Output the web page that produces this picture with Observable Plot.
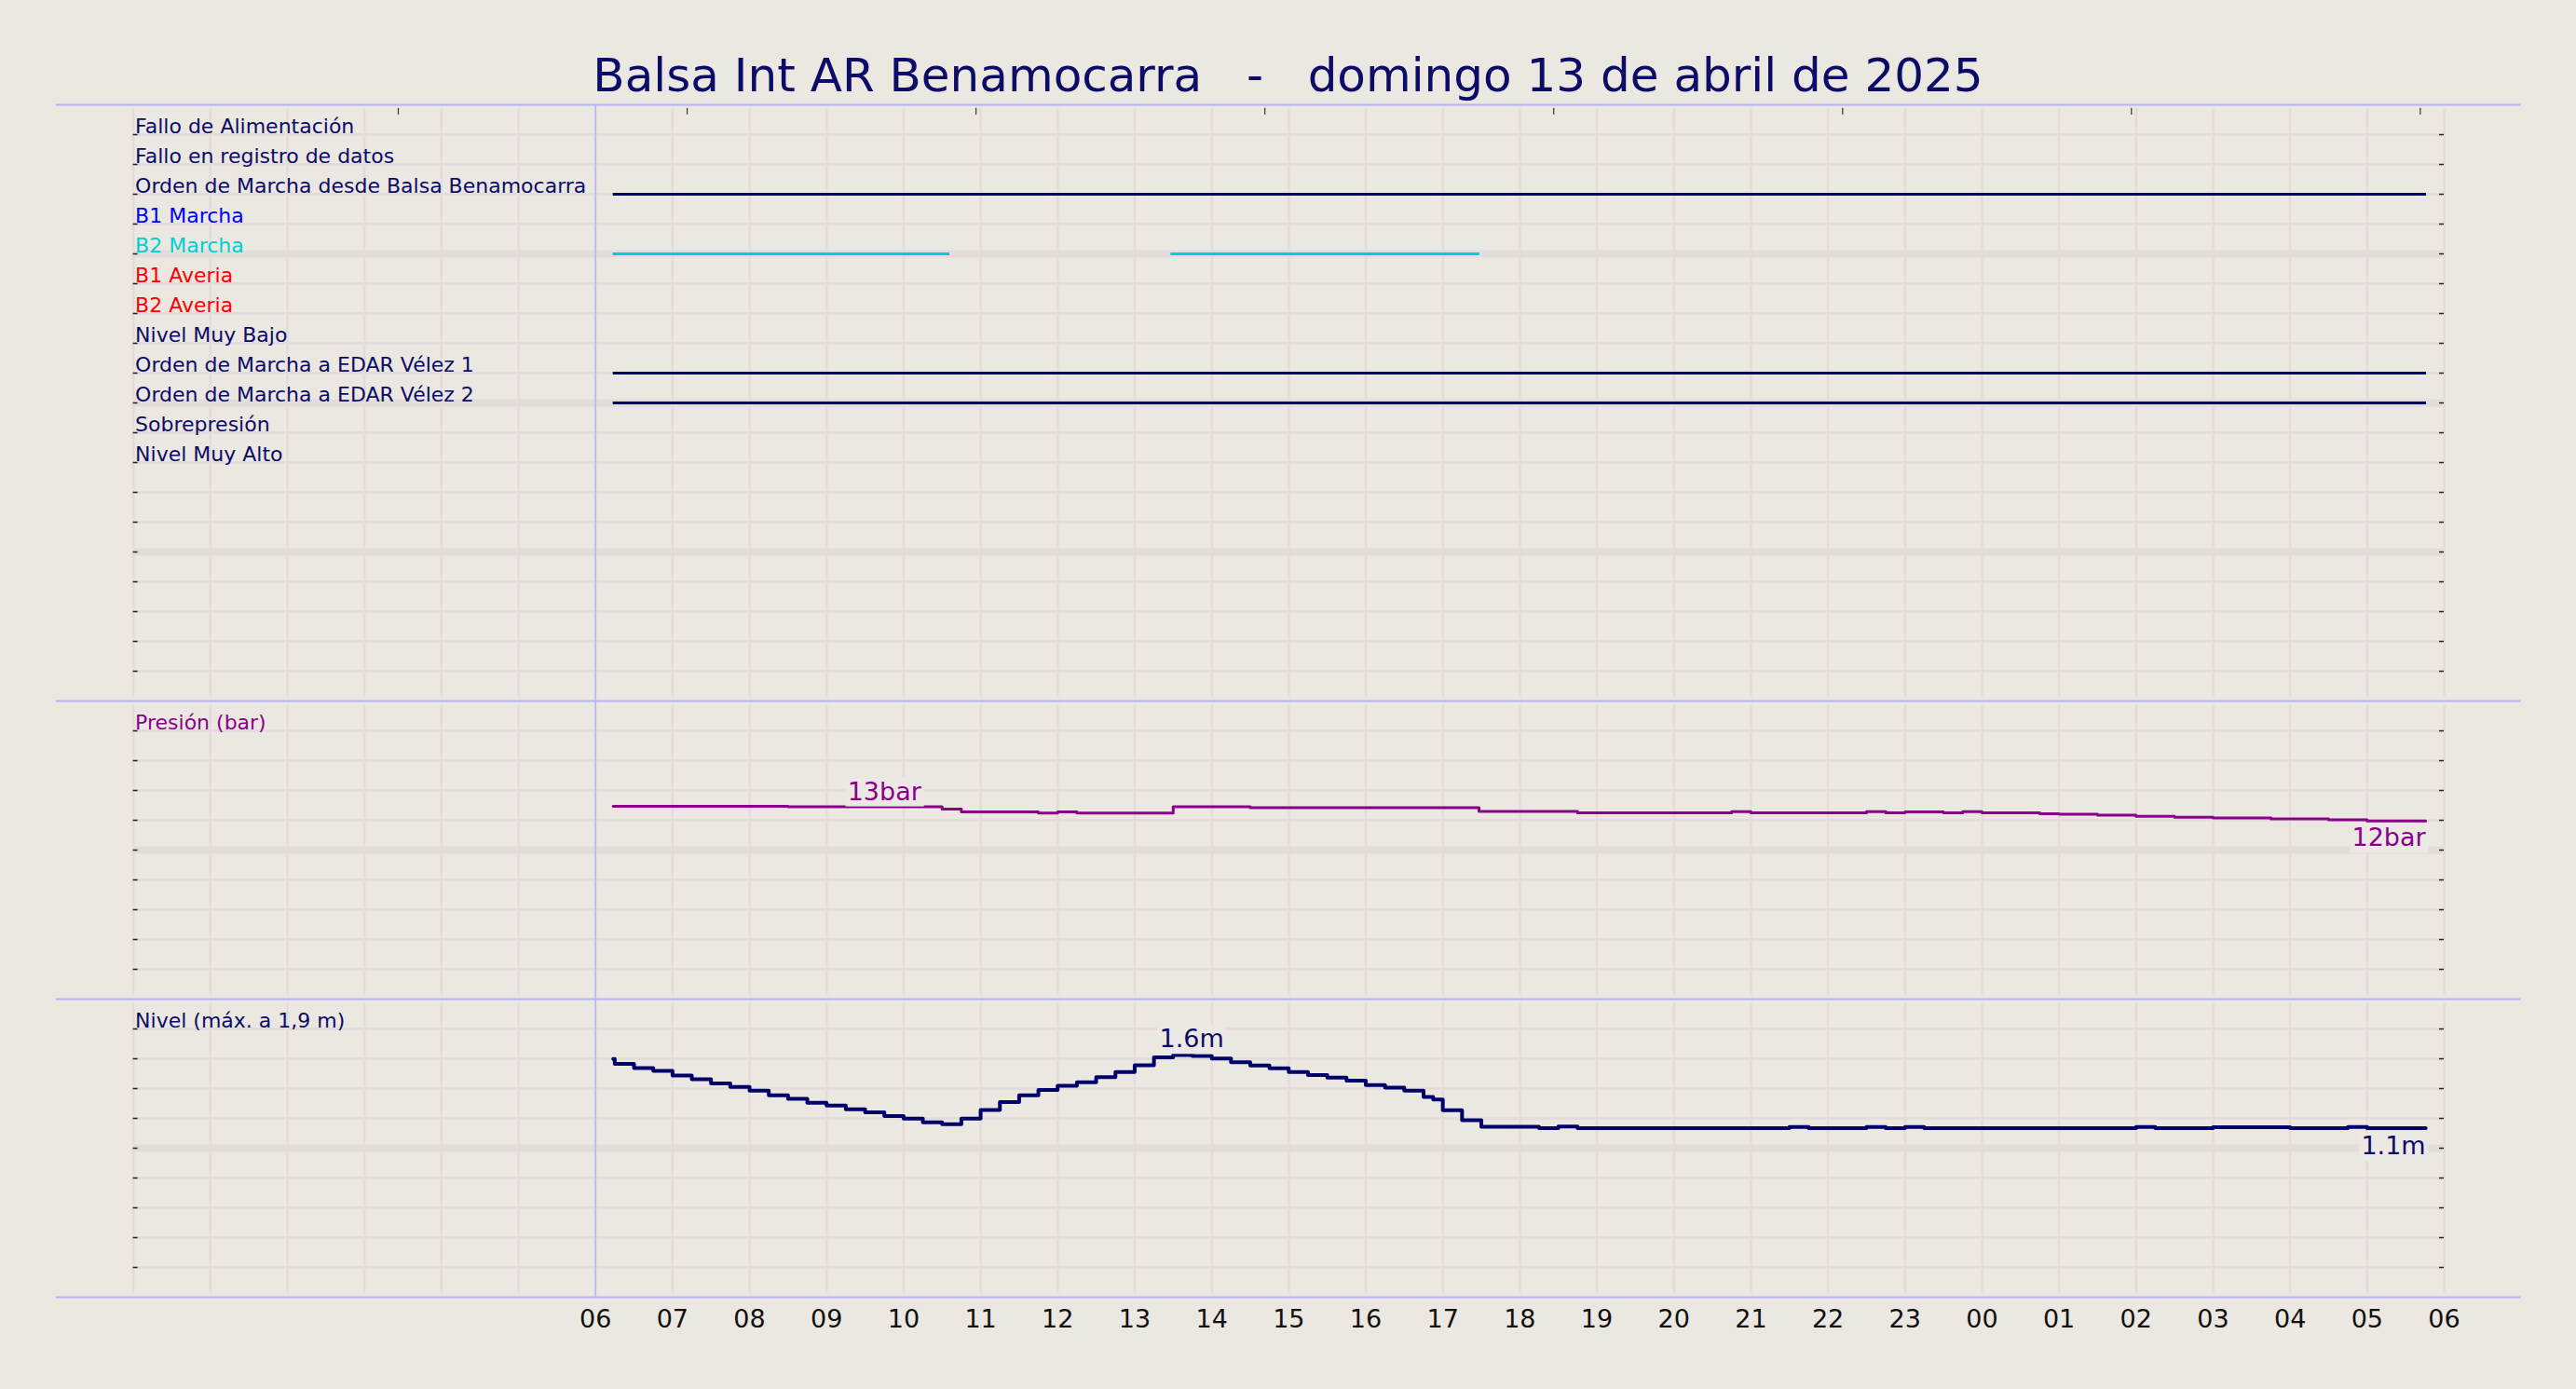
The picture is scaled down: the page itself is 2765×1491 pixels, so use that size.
<!DOCTYPE html>
<html>
<head>
<meta charset="utf-8">
<script src="https://cdn.jsdelivr.net/npm/d3@7"></script>
<script src="https://cdn.jsdelivr.net/npm/@observablehq/plot@0.6"></script>
<style>
  html, body { margin: 0; padding: 0; background: #ebe7e1; overflow: hidden; }
  #wrap { width: 2765px; }
  #title { height: 112px; box-sizing: border-box; padding-top: 56px; font: 50px/50px "DejaVu Sans"; color: #0c0c68; text-align: center; white-space: pre; }
  svg { display: block; overflow: visible; }
</style>
</head>
<body>
<div id="wrap"><div id="title"></div></div>
<script>
// ---------- data ----------
const titleText = "Balsa Int AR Benamocarra   -   domingo 13 de abril de 2025";

const hourTicks = [6,7,8,9,10,11,12,13,14,15,16,17,18,19,20,21,22,23,24,25,26,27,28,29,30];
const hourLabels = ["06","07","08","09","10","11","12","13","14","15","16","17","18","19","20","21","22","23","00","01","02","03","04","05","06"];
const gridHours = [0,1,2,3,4,5,6,7,8,9,10,11,12,13,14,15,16,17,18,19,20,21,22,23,24,25,26,27,28,29,30];
const topTickHours = [3.44, 7.19, 10.94, 14.69, 18.44, 22.19, 25.94, 29.69];

const signalNames = [
  "Fallo de Alimentación",
  "Fallo en registro de datos",
  "Orden de Marcha desde Balsa Benamocarra",
  "B1 Marcha",
  "B2 Marcha",
  "B1 Averia",
  "B2 Averia",
  "Nivel Muy Bajo",
  "Orden de Marcha a EDAR Vélez 1",
  "Orden de Marcha a EDAR Vélez 2",
  "Sobrepresión",
  "Nivel Muy Alto"
];
// active periods of digital signals (hours since 00:00 of 13/04)
const onSignal = ["Orden de Marcha desde Balsa Benamocarra", "B2 Marcha", "B2 Marcha", "Orden de Marcha a EDAR Vélez 1", "Orden de Marcha a EDAR Vélez 2"];
const onStart  = [6.23, 6.23, 13.47, 6.23, 6.23];
const onEnd    = [29.77, 10.60, 17.48, 29.77, 29.77];

// pressure (bar), step changes
const presT = [6.23, 8.50, 10.50, 10.75, 11.75, 12.00, 12.25, 13.50, 14.50, 17.47, 18.75, 20.75, 21.00, 22.50, 22.75, 23.00, 23.50, 23.75, 24.00, 24.75, 25.00, 25.50, 26.00, 26.50, 27.00, 27.75, 28.50, 29.00, 29.76];
const presV = [12.94, 12.90, 12.75, 12.57, 12.49, 12.57, 12.49, 12.90, 12.84, 12.59, 12.50, 12.58, 12.50, 12.58, 12.50, 12.56, 12.50, 12.58, 12.50, 12.43, 12.40, 12.34, 12.27, 12.20, 12.16, 12.10, 12.03, 11.96, 11.96];

// level (m), step changes
const levT = [6.23, 6.25, 6.50, 6.75, 7.00, 7.25, 7.50, 7.75, 8.00, 8.25, 8.50, 8.75, 9.00, 9.25, 9.50, 9.75, 10.00, 10.25, 10.50, 10.75, 11.00, 11.25, 11.50, 11.75, 12.00, 12.25, 12.50, 12.75, 13.00, 13.25, 13.50, 13.75, 14.00, 14.25, 14.50, 14.75, 15.00, 15.25, 15.50, 15.75, 16.00, 16.25, 16.50, 16.75, 16.875, 17.00, 17.25, 17.50, 18.25, 18.50, 18.75, 21.50, 21.75, 22.50, 22.75, 23.00, 23.25, 26.00, 26.25, 27.00, 28.00, 28.75, 29.00, 29.76];
const levV = [1.598, 1.565, 1.538, 1.518, 1.487, 1.462, 1.435, 1.411, 1.386, 1.355, 1.331, 1.304, 1.286, 1.261, 1.241, 1.216, 1.199, 1.174, 1.161, 1.199, 1.257, 1.310, 1.355, 1.391, 1.418, 1.442, 1.476, 1.511, 1.556, 1.609, 1.625, 1.618, 1.601, 1.576, 1.554, 1.536, 1.511, 1.491, 1.473, 1.453, 1.424, 1.406, 1.386, 1.344, 1.326, 1.254, 1.188, 1.143, 1.135, 1.145, 1.135, 1.142, 1.135, 1.142, 1.135, 1.142, 1.135, 1.142, 1.135, 1.140, 1.135, 1.142, 1.135, 1.135];

// value annotations
const presMaxLabel = {t: 9.75, v: 12.90, text: "13bar"};
const presEndLabel = {t: 29.76, v: 11.96, text: "12bar"};
const levMaxLabel  = {t: 13.74, v: 1.62, text: "1.6m"};
const levEndLabel  = {t: 29.76, v: 1.135, text: "1.1m"};

const rowsTop = [1,2,3,4,5,6,7,8,9,10,11,12,13,14,15,16,17,18,19];
const rowsPres = [2,4,6,8,10,12,14,16,18];
const rowsLev = [0.2,0.4,0.6,0.8,1.0,1.2,1.4,1.6,1.8];

// ---------- styles ----------
const W = 2765;
const X_RANGE = [142.6, 2623];
const GRID = "#e2dddc", SEP = "#b4b4f4", NAVY = "#0c0c68", LNAVY = "#00006b", PURPLE = "#8b008b", TICK = "#222";
const BOX = "#ece9e4";
const labelColor = {"B1 Marcha": "#0000ff", "B2 Marcha": "#00ced1", "B1 Averia": "#ff0000", "B2 Averia": "#ff0000"};
const colorOf = n => labelColor[n] ?? NAVY;
const lineColorOf = n => labelColor[n] ?? LNAVY;
const tickH = 5 / 82.68;
const SEP_SPAN = [-1.0, 31.0];
const style = {fontFamily: "DejaVu Sans", background: "transparent", overflow: "visible"};

document.getElementById("title").textContent = titleText;

// ---------- panel 1 : digital signals ----------
const p1 = Plot.plot({
  width: W, height: 640, marginTop: 0, marginBottom: 0, marginLeft: 0, marginRight: 0,
  x: {domain: [0, 30], range: X_RANGE, axis: null},
  y: {domain: [0, 20], range: [0, 640], axis: null},
  style,
  marks: [
    Plot.ruleY(rowsTop, {x1: 0, x2: 30, stroke: GRID, strokeWidth: d => d % 5 === 0 ? 8 : 3}),
    Plot.ruleX(gridHours, {y1: 0.12, y2: 19.88, stroke: GRID, strokeWidth: 2.5}),
    Plot.ruleX([6], {y1: 0, y2: 20, stroke: SEP, strokeWidth: 1.5}),
    Plot.ruleY(rowsTop, {x1: 0, x2: tickH, stroke: TICK, strokeWidth: 1.5}),
    Plot.ruleY(rowsTop, {x1: 30 - tickH, x2: 30, stroke: TICK, strokeWidth: 1.5}),
    Plot.ruleX(topTickHours, {y1: 0.12, y2: 0.34, stroke: "#333", strokeWidth: 1.2}),
    Plot.ruleY([0], {x1: SEP_SPAN[0], x2: SEP_SPAN[1], stroke: SEP, strokeWidth: 2}),
    Plot.ruleY(onSignal.map((s, i) => i), {
      y: i => signalNames.indexOf(onSignal[i]) + 1,
      x1: i => onStart[i], x2: i => onEnd[i],
      stroke: i => lineColorOf(onSignal[i]), strokeWidth: 3
    }),
    Plot.text(signalNames, {
      x: 0, y: (d, i) => i + 1, text: d => d, fill: d => colorOf(d),
      textAnchor: "start", lineAnchor: "bottom", dx: 2, dy: -2, fontSize: 22
    })
  ]
});

// ---------- panel 2 : pressure ----------
const presIdx = presT.map((t, i) => i);
const p2 = Plot.plot({
  width: W, height: 320, marginTop: 0, marginBottom: 0, marginLeft: 0, marginRight: 0,
  x: {domain: [0, 30], range: X_RANGE, axis: null},
  y: {domain: [0, 20], range: [320, 0], axis: null},
  style,
  marks: [
    Plot.ruleY(rowsPres, {x1: 0, x2: 30, stroke: GRID, strokeWidth: d => d === 10 ? 8 : 3}),
    Plot.ruleX(gridHours, {y1: 0.25, y2: 19.75, stroke: GRID, strokeWidth: 2.5}),
    Plot.ruleX([6], {y1: 0, y2: 20, stroke: SEP, strokeWidth: 1.5}),
    Plot.ruleY(rowsPres, {x1: 0, x2: tickH, stroke: TICK, strokeWidth: 1.5}),
    Plot.ruleY(rowsPres, {x1: 30 - tickH, x2: 30, stroke: TICK, strokeWidth: 1.5}),
    Plot.ruleY([20], {x1: SEP_SPAN[0], x2: SEP_SPAN[1], stroke: SEP, strokeWidth: 2}),
    Plot.line(presIdx, {x: i => presT[i], y: i => presV[i], curve: "step-after", stroke: PURPLE, strokeWidth: 3}),
    Plot.text(["Presión (bar)"], {x: 0, y: 18, text: d => d, fill: PURPLE, textAnchor: "start", lineAnchor: "bottom", dx: 2, dy: -2, fontSize: 22}),
    Plot.text([presMaxLabel], {x: "t", y: "v", text: "text", fill: PURPLE, textAnchor: "middle", lineAnchor: "bottom", dy: -7.5, fontSize: 27, className: "vlabel"}),
    Plot.text([presEndLabel], {x: "t", y: "v", text: "text", fill: PURPLE, textAnchor: "end", lineAnchor: "top", dy: 8, fontSize: 27, className: "vlabel"})
  ]
});

// ---------- panel 3 : level ----------
const levIdx = levT.map((t, i) => i);
const p3 = Plot.plot({
  width: W, height: 419, marginTop: 0, marginBottom: 99, marginLeft: 0, marginRight: 0,
  x: {domain: [0, 30], range: X_RANGE, label: null},
  y: {domain: [0, 2], range: [320, 0], axis: null},
  style,
  marks: [
    Plot.ruleY(rowsLev, {x1: 0, x2: 30, stroke: GRID, strokeWidth: d => Math.abs(d - 1) < 1e-9 ? 8 : 3}),
    Plot.ruleX(gridHours, {y1: 0.025, y2: 1.975, stroke: GRID, strokeWidth: 2.5}),
    Plot.ruleX([6], {y1: 0, y2: 2, stroke: SEP, strokeWidth: 1.5}),
    Plot.ruleY(rowsLev, {x1: 0, x2: tickH, stroke: TICK, strokeWidth: 1.5}),
    Plot.ruleY(rowsLev, {x1: 30 - tickH, x2: 30, stroke: TICK, strokeWidth: 1.5}),
    Plot.ruleY([2], {x1: SEP_SPAN[0], x2: SEP_SPAN[1], stroke: SEP, strokeWidth: 2}),
    Plot.ruleY([0], {x1: SEP_SPAN[0], x2: SEP_SPAN[1], stroke: SEP, strokeWidth: 2}),
    Plot.axisX(hourTicks, {tickSize: 0, tickPadding: 13, fontSize: 27, color: "#111", label: null, tickFormat: d => hourLabels[hourTicks.indexOf(d)]}),
    Plot.line(levIdx, {x: i => levT[i], y: i => levV[i], curve: "step-after", stroke: LNAVY, strokeWidth: 4}),
    Plot.text(["Nivel (máx. a 1,9 m)"], {x: 0, y: 1.8, text: d => d, fill: NAVY, textAnchor: "start", lineAnchor: "bottom", dx: 2, dy: -2, fontSize: 22}),
    Plot.text([levMaxLabel], {x: "t", y: "v", text: "text", fill: NAVY, textAnchor: "middle", lineAnchor: "bottom", dy: -9, fontSize: 27, className: "vlabel"}),
    Plot.text([levEndLabel], {x: "t", y: "v", text: "text", fill: NAVY, textAnchor: "end", lineAnchor: "top", dy: 9, fontSize: 27, className: "vlabel"})
  ]
});

const wrap = document.getElementById("wrap");
wrap.append(p1, p2, p3);

// label background boxes (as in the original annotations)
document.querySelectorAll("g.vlabel text").forEach(t => {
  const b = t.getBBox();
  const r = document.createElementNS("http://www.w3.org/2000/svg", "rect");
  r.setAttribute("x", b.x - 2);
  r.setAttribute("y", b.y + 1);
  r.setAttribute("width", b.width + 4);
  r.setAttribute("height", b.height);
  r.setAttribute("fill", BOX);
  const tr = t.getAttribute("transform");
  if (tr) r.setAttribute("transform", tr);
  t.parentNode.insertBefore(r, t);
});
</script>
</body>
</html>
